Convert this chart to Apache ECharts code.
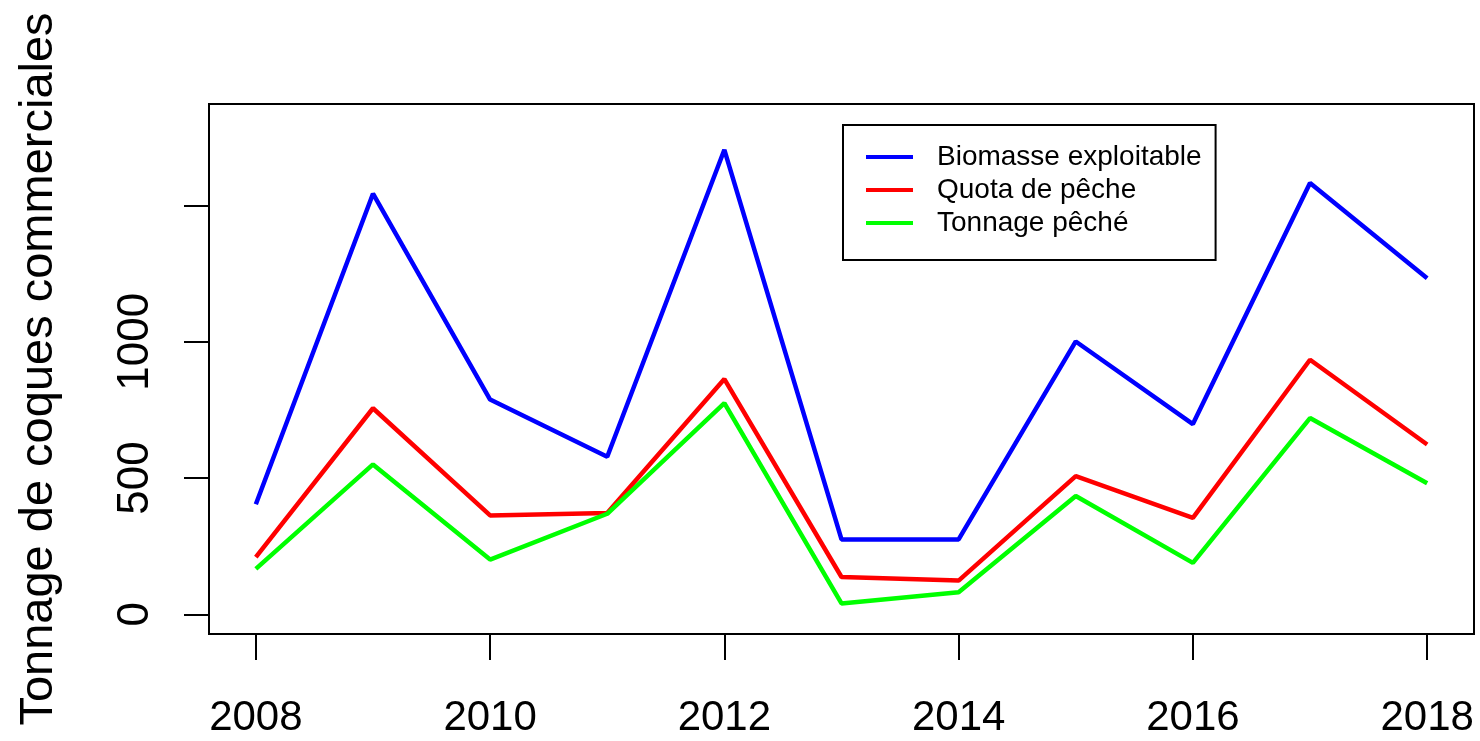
<!DOCTYPE html>
<html>
<head>
<meta charset="utf-8">
<script src="https://cdn.jsdelivr.net/npm/echarts@6/dist/echarts.min.js"></script>
<style>
html,body{margin:0;padding:0;background:#fff;}
#chart{width:1480px;height:741px;}
</style>
</head>
<body>
<div id="chart"></div>
<script>
const years = [2008, 2009, 2010, 2011, 2012, 2013, 2014, 2015, 2016, 2017, 2018];
const biomasse = [404, 1543, 788, 578, 1704, 275, 275, 1001, 698, 1582, 1233];
const quota = [210, 756, 363, 372, 863, 137, 124, 507, 354, 934, 623];
const tonnage = [167, 550, 201, 369, 775, 40, 81, 434, 189, 720, 481];
const seriesNames = ['Biomasse exploitable', 'Quota de pêche', 'Tonnage pêché'];
const xTickValues = [2008, 2010, 2012, 2014, 2016, 2018];
const yTickValues = [0, 500, 1000, 1500];
const yLabelValues = [0, 500, 1000];
const yTitle = 'Tonnage de coques commerciales';

const FONT = '"Liberation Sans", Arial, sans-serif';
const pair = arr => years.map((y, i) => [y, arr[i]]);

const chart = echarts.init(document.getElementById('chart'), null, {renderer: 'canvas'});
chart.setOption({
  animation: false,
  backgroundColor: '#ffffff',
  grid: {
    left: 209, right: 6, top: 104, bottom: 107,
    show: true, borderColor: '#000', borderWidth: 2, backgroundColor: 'transparent'
  },
  xAxis: {
    type: 'value', min: 2007.6, max: 2018.4,
    axisLine: {show: true, onZero: false, lineStyle: {color: '#000', width: 2}},
    axisTick: {show: true, customValues: xTickValues, length: 26, lineStyle: {color: '#000', width: 2}},
    axisLabel: {show: true, customValues: xTickValues, margin: 63, fontSize: 42, color: '#000', fontFamily: FONT,
      formatter: v => String(v)},
    splitLine: {show: false}
  },
  yAxis: {
    type: 'value', min: -72, max: 1872,
    name: yTitle, nameLocation: 'middle', nameGap: 146,
    nameTextStyle: {fontSize: 47, color: '#000', fontFamily: FONT},
    axisLine: {show: true, onZero: false, lineStyle: {color: '#000', width: 2}},
    axisTick: {show: true, customValues: yTickValues, length: 25, lineStyle: {color: '#000', width: 2}},
    axisLabel: {show: true, customValues: yLabelValues, rotate: 90, margin: 51, fontSize: 44, color: '#000', fontFamily: FONT,
      formatter: v => String(v)},
    splitLine: {show: false}
  },
  legend: {
    orient: 'vertical', left: 843, top: 125,
    padding: [18, 14, 23, 23], itemGap: 5,
    itemWidth: 47, itemHeight: 4, icon: 'rect',
    borderColor: '#000', borderWidth: 2, backgroundColor: '#fff',
    textStyle: {fontSize: 28, color: '#000', fontFamily: FONT, padding: [0, 0, 0, 19]},
    data: seriesNames
  },
  series: [
    {name: seriesNames[0], type: 'line', data: pair(biomasse), showSymbol: false, symbol: 'none',
      lineStyle: {color: '#0000ff', width: 4.5}, itemStyle: {color: '#0000ff'}},
    {name: seriesNames[1], type: 'line', data: pair(quota), showSymbol: false, symbol: 'none',
      lineStyle: {color: '#ff0000', width: 4.5}, itemStyle: {color: '#ff0000'}},
    {name: seriesNames[2], type: 'line', data: pair(tonnage), showSymbol: false, symbol: 'none',
      lineStyle: {color: '#00ff00', width: 4.5}, itemStyle: {color: '#00ff00'}}
  ]
});
</script>
</body>
</html>
